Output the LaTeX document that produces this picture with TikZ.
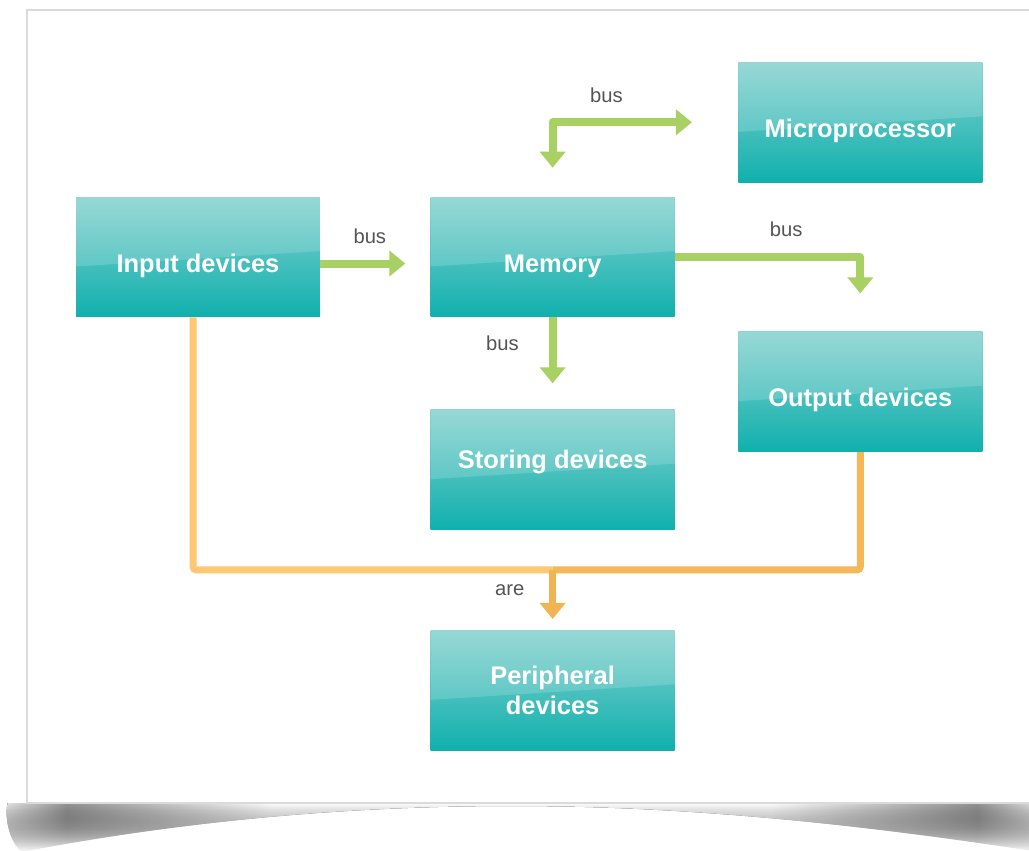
\documentclass[tikz,border=0pt]{standalone}
\usepackage{fontspec}
\setmainfont{Liberation Sans}
\usetikzlibrary{positioning,arrows.meta,fadings}

\definecolor{boxtop}{RGB}{132,209,206}
\definecolor{boxbot}{RGB}{16,176,173}
\definecolor{busgreen}{RGB}{168,208,98}
\definecolor{wirelight}{RGB}{253,199,115}
\definecolor{wiredark}{RGB}{238,174,72}
\definecolor{labelgray}{RGB}{85,85,85}
\definecolor{cardline}{RGB}{218,218,218}

% darker near the two ends, white in the middle
\pgfdeclarehorizontalshading{cardshadow}{100bp}{color(0bp)=(black!10); color(25bp)=(black!10);
  color(28bp)=(black!42); color(38bp)=(white); color(62bp)=(white);
  color(72bp)=(black!42); color(75bp)=(black!10); color(100bp)=(black!10)}

\begin{document}
\begin{tikzpicture}[x=0.02cm,y=-0.02cm,
box/.style={rectangle,minimum width=4.88cm,minimum height=2.4cm,inner sep=0pt,
    top color=boxtop,bottom color=boxbot,text=white,align=center,
    font=\bfseries\fontsize{14.5}{17.5}\selectfont,
    path picture={\fill[white,opacity=.16] (path picture bounding box.north west)
      -- ([yshift=-0.19cm]path picture bounding box.west)
      -- ([yshift=0.12cm]path picture bounding box.east)
      -- (path picture bounding box.north east) -- cycle;}},
sink/.style={text height=18.3pt,text depth=1pt},
lift/.style={text height=3pt,text depth=4pt},
tip/.style={-{Triangle[width=0.5cm,length=0.32cm]}},
bus/.style={draw=busgreen,line width=0.16cm,line join=round,tip},
wire/.style={line width=0.14cm,rounded corners=2pt},
lbl/.style={text=labelgray,font=\fontsize{11.5}{13}\selectfont}]

\useasboundingbox (0,0) rectangle (1029,850);
\clip (0,0) rectangle (1029,850);

% card and its curled shadow
\fill[shading=cardshadow,path fading=south] (8,803) -- (1040,803) -- (1040,852)
  .. controls (820,818) and (660,806) .. (512,806)
  .. controls (364,806) and (200,818) .. (22,852)
  .. controls (8,840) and (5,815) .. (8,803) -- cycle;
\draw[cardline,line width=0.04cm,fill=white] (27,10) rectangle (1045,803);

% blocks
\node (inp) [box,sink] at (198,257) {Input devices};
\node (mem) [box,sink,right=2.2cm of inp] {Memory};
\node (micro) [box,sink,above right=0.28cm and 1.26cm of mem] {Microprocessor};
\node (out) [box,sink,below right=0.28cm and 1.26cm of mem] {Output devices};
\node (sto) [box,lift,below=1.84cm of mem] {Storing devices};
\node (per) [box,below=2cm of sto] {Peripheral\\devices};

% green buses
\draw[bus,shorten >=0.5cm] ([yshift=-0.13cm]inp.east) -- ([yshift=-0.13cm]mem.west)
  node[lbl,above=0.2cm,pos=.45] {bus};
\draw[bus,{Triangle[width=0.5cm,length=0.32cm]}-{Triangle[width=0.5cm,length=0.32cm]},
  shorten <=0.58cm,shorten >=0.92cm] (mem.north) |- (micro.west)
  node[lbl,above=0.2cm,pos=.645] {bus};
\draw[bus,shorten >=0.76cm] (mem.east) -| (out.north)
  node[lbl,above=0.2cm,pos=.3] {bus};
\draw[bus,shorten >=0.52cm] (mem.south) -- (sto.north)
  node[lbl,left=0.48cm,pos=.28] {bus};

% orange lines to the peripherals
\path (per.north) ++(0,-60) coordinate (split);
\draw[wire,wirelight] ([xshift=-0.1cm]inp.south) |- (split);
\draw[wire,wiredark!60!wirelight] (split) -| (out.south);
\draw[wire,wiredark!75!wirelight,tip,shorten >=0.22cm] (split) -- (per.north)
  node[lbl,left=0.38cm,pos=.33] {are};
\end{tikzpicture}
\end{document}
